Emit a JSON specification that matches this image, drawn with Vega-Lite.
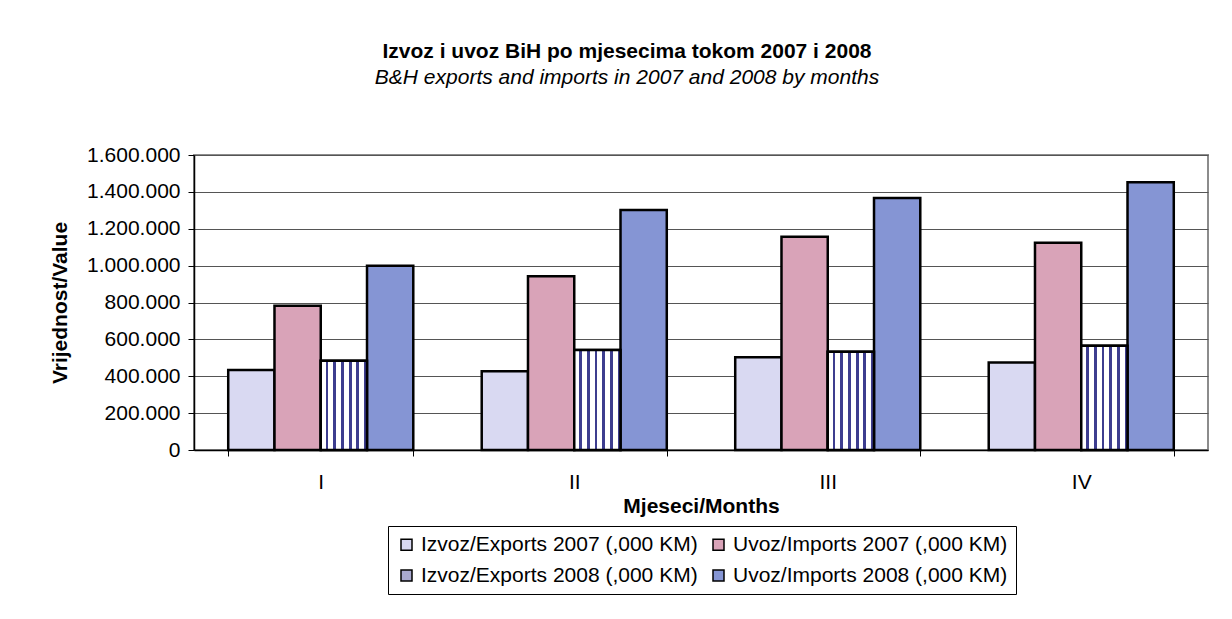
{
  "$schema": "https://vega.github.io/schema/vega-lite/v6.json",
  "autosize": {"type": "none"},
  "width": 1014,
  "height": 295,
  "padding": {"left": 194, "top": 155, "right": 24, "bottom": 169},
  "background": "white",
  "config": {
    "font": "Liberation Sans",
    "locale": {"number": {"decimal": ",", "thousands": ".", "grouping": [3], "currency": ["", " KM"]}},
    "view": {"stroke": "#8c8c8c", "strokeWidth": 2}
  },
  "title": {
    "text": "Izvoz i uvoz BiH po mjesecima tokom 2007 i 2008",
    "subtitle": "B&H exports and imports in 2007 and 2008 by months",
    "anchor": "middle",
    "frame": "group",
    "dx": -74,
    "offset": 56,
    "fontSize": 21,
    "fontWeight": "bold",
    "color": "black",
    "subtitleFontSize": 21,
    "subtitleFontStyle": "italic",
    "subtitleColor": "black",
    "subtitlePadding": 5
  },
  "data": {
    "values": [
      {"month": "I", "series": "Izvoz/Exports 2007 (,000 KM)", "value": 434000},
      {"month": "I", "series": "Uvoz/Imports 2007 (,000 KM)", "value": 783000},
      {"month": "I", "series": "Izvoz/Exports 2008 (,000 KM)", "value": 484000},
      {"month": "I", "series": "Uvoz/Imports 2008 (,000 KM)", "value": 999000},
      {"month": "II", "series": "Izvoz/Exports 2007 (,000 KM)", "value": 427000},
      {"month": "II", "series": "Uvoz/Imports 2007 (,000 KM)", "value": 942000},
      {"month": "II", "series": "Izvoz/Exports 2008 (,000 KM)", "value": 542000},
      {"month": "II", "series": "Uvoz/Imports 2008 (,000 KM)", "value": 1302000},
      {"month": "III", "series": "Izvoz/Exports 2007 (,000 KM)", "value": 503000},
      {"month": "III", "series": "Uvoz/Imports 2007 (,000 KM)", "value": 1157000},
      {"month": "III", "series": "Izvoz/Exports 2008 (,000 KM)", "value": 533000},
      {"month": "III", "series": "Uvoz/Imports 2008 (,000 KM)", "value": 1367000},
      {"month": "IV", "series": "Izvoz/Exports 2007 (,000 KM)", "value": 474000},
      {"month": "IV", "series": "Uvoz/Imports 2007 (,000 KM)", "value": 1124000},
      {"month": "IV", "series": "Izvoz/Exports 2008 (,000 KM)", "value": 566000},
      {"month": "IV", "series": "Uvoz/Imports 2008 (,000 KM)", "value": 1452000}
    ]
  },
  "encoding": {
    "x": {
      "field": "month",
      "type": "nominal",
      "sort": null,
      "scale": {"domain": ["I", "II", "III", "IV"], "paddingInner": 0.27, "paddingOuter": 0.135},
      "axis": {
        "title": "Mjeseci/Months",
        "titleFontSize": 21,
        "titleFontWeight": "bold",
        "titleColor": "black",
        "titlePadding": 3,
        "labelAngle": 0,
        "labelFontSize": 21,
        "labelColor": "black",
        "labelPadding": 15,
        "tickBand": "extent",
        "tickColor": "black",
        "tickSize": 6,
        "domainColor": "black",
        "domainWidth": 1.5,
        "grid": false
      }
    },
    "xOffset": {
      "field": "series",
      "type": "nominal",
      "scale": {
        "domain": ["Izvoz/Exports 2007 (,000 KM)", "Uvoz/Imports 2007 (,000 KM)", "Izvoz/Exports 2008 (,000 KM)", "Uvoz/Imports 2008 (,000 KM)"],
        "paddingInner": 0, "paddingOuter": 0
      }
    },
    "y": {
      "field": "value",
      "type": "quantitative",
      "scale": {"domain": [0, 1600000], "nice": false},
      "axis": {
        "title": "Vrijednost/Value",
        "titleFontSize": 21,
        "titleFontWeight": "bold",
        "titleColor": "black",
        "titlePadding": 16,
        "values": [0, 200000, 400000, 600000, 800000, 1000000, 1200000, 1400000, 1600000],
        "format": ",d",
        "labelFontSize": 21,
        "labelColor": "black",
        "labelPadding": 8,
        "tickColor": "black",
        "tickSize": 6,
        "domainColor": "black",
        "domainWidth": 1.5,
        "gridColor": "#555555",
        "gridWidth": 1
      }
    }
  },
  "layer": [
    {
      "mark": {"type": "bar", "stroke": "black", "strokeWidth": 2.5, "opacity": 1},
      "encoding": {
        "color": {
          "field": "series",
          "type": "nominal",
          "scale": {
            "domain": ["Izvoz/Exports 2007 (,000 KM)", "Uvoz/Imports 2007 (,000 KM)", "Izvoz/Exports 2008 (,000 KM)", "Uvoz/Imports 2008 (,000 KM)"],
            "range": ["#d9d9f2", "#d9a3b8", "#a9a9d0", "#8595d4"]
          },
          "legend": {
            "title": null,
            "orient": "none",
            "legendX": 194,
            "legendY": 371,
            "direction": "horizontal",
            "columns": 2,
            "strokeColor": "black",
            "padding": 8,
            "labelFontSize": 21,
            "labelColor": "black",
            "labelLimit": 500,
            "labelOffset": 4,
            "symbolType": "square",
            "symbolSize": 121,
            "symbolStrokeColor": "black",
            "symbolStrokeWidth": 1.5,
            "symbolOpacity": 1,
            "columnPadding": 10,
            "rowPadding": 9
          }
        }
      }
    },
    {
      "transform": [{"filter": "datum.series == 'Izvoz/Exports 2008 (,000 KM)'"}],
      "mark": {
        "type": "bar",
        "stroke": "black",
        "strokeWidth": 2.5,
        "opacity": 1,
        "fill": {
          "gradient": "linear", "x1": 0, "y1": 0, "x2": 1, "y2": 0,
          "stops": [
            {"offset": 0.0, "color": "#ffffff"}, {"offset": 0.105, "color": "#ffffff"}, {"offset": 0.105, "color": "#3d3d8f"}, {"offset": 0.1667, "color": "#3d3d8f"},
            {"offset": 0.1667, "color": "#ffffff"}, {"offset": 0.272, "color": "#ffffff"}, {"offset": 0.272, "color": "#3d3d8f"}, {"offset": 0.3333, "color": "#3d3d8f"},
            {"offset": 0.3333, "color": "#ffffff"}, {"offset": 0.438, "color": "#ffffff"}, {"offset": 0.438, "color": "#3d3d8f"}, {"offset": 0.5, "color": "#3d3d8f"},
            {"offset": 0.5, "color": "#ffffff"}, {"offset": 0.605, "color": "#ffffff"}, {"offset": 0.605, "color": "#3d3d8f"}, {"offset": 0.6667, "color": "#3d3d8f"},
            {"offset": 0.6667, "color": "#ffffff"}, {"offset": 0.772, "color": "#ffffff"}, {"offset": 0.772, "color": "#3d3d8f"}, {"offset": 0.8333, "color": "#3d3d8f"},
            {"offset": 0.8333, "color": "#ffffff"}, {"offset": 0.938, "color": "#ffffff"}, {"offset": 0.938, "color": "#3d3d8f"}, {"offset": 1.0, "color": "#3d3d8f"}
          ]
        }
      },
      "encoding": {}
    }
  ]
}
